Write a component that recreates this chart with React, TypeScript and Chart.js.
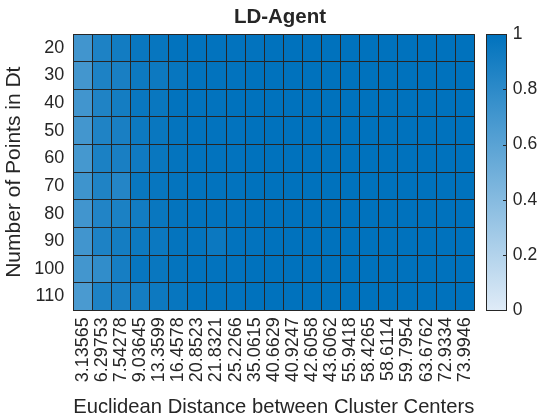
import React, { useEffect, useRef } from "react";
import { Chart, registerables } from "chart.js";

Chart.register(...registerables);

const distanceLabels = [
  "3.13565", "6.29753", "7.54278", "9.03645", "13.3599", "16.4578", "20.8523",
  "21.8321", "25.2266", "35.0615", "40.6629", "40.9247", "42.6058", "43.6062",
  "55.9418", "58.4265", "58.6114", "59.7954", "63.6762", "72.9334", "73.9946",
];

const pointCounts = ["20", "30", "40", "50", "60", "70", "80", "90", "100", "110"];

const row20 = [0.71, 0.87, 0.92, 0.96, 0.97, 0.99, 0.99, 0.99, 0.99, 0.99, 1, 1, 1, 1, 1, 1, 1, 1, 1, 1, 1];
const row30 = [0.70, 0.87, 0.89, 0.94, 0.94, 0.97, 0.99, 0.99, 0.99, 1, 1, 1, 1, 1, 1, 1, 1, 1, 1, 1, 1];
const row40 = [0.71, 0.86, 0.91, 0.96, 0.96, 0.99, 0.99, 0.99, 1, 1, 1, 1, 1, 1, 1, 1, 1, 1, 1, 1, 1];
const row50 = [0.70, 0.86, 0.89, 0.94, 0.96, 0.98, 0.99, 0.99, 0.99, 1, 1, 1, 1, 1, 1, 1, 1, 1, 1, 1, 1];
const row60 = [0.69, 0.88, 0.89, 0.93, 0.96, 0.98, 0.99, 0.99, 0.99, 1, 1, 1, 1, 1, 1, 1, 1, 1, 1, 1, 1];
const row70 = [0.72, 0.86, 0.84, 0.96, 0.97, 0.98, 0.99, 0.99, 0.99, 1, 1, 1, 1, 1, 1, 1, 1, 1, 1, 1, 1];
const row80 = [0.71, 0.85, 0.88, 0.92, 0.96, 0.98, 0.99, 0.99, 0.99, 1, 1, 1, 1, 1, 1, 1, 1, 1, 1, 1, 1];
const row90 = [0.71, 0.87, 0.91, 0.94, 0.95, 0.98, 0.98, 0.95, 0.99, 0.99, 1, 1, 1, 1, 1, 1, 1, 1, 1, 1, 1];
const row100 = [0.70, 0.78, 0.90, 0.97, 0.96, 0.98, 0.99, 0.99, 0.99, 1, 1, 1, 1, 1, 1, 1, 1, 1, 1, 1, 1];
const row110 = [0.67, 0.87, 0.89, 0.91, 0.94, 0.97, 0.99, 0.99, 0.99, 1, 1, 1, 1, 1, 1, 1, 1, 1, 1, 1, 1];

const rows = [row20, row30, row40, row50, row60, row70, row80, row90, row100, row110];

const colorbarTicks = [0, 0.2, 0.4, 0.6, 0.8, 1];

const LOW = [223, 235, 247];
const HIGH = [0, 114, 189];
const TEXT = "rgb(38,38,38)";
const FONT = "'Liberation Sans', Arial, Helvetica, sans-serif";

function colorFor(v: number): string {
  const c = LOW.map((l, k) => Math.round(l + (HIGH[k] - l) * v));
  return `rgb(${c[0]},${c[1]},${c[2]})`;
}

const colorbarPlugin = {
  id: "colorbar",
  afterDraw(chart: any) {
    const { ctx, chartArea } = chart;
    const x0 = Math.round(chartArea.right + 12);
    const w = 20;
    const top = Math.round(chartArea.top);
    const bottom = Math.round(chartArea.bottom);
    ctx.save();
    const g = ctx.createLinearGradient(0, bottom, 0, top);
    g.addColorStop(0, colorFor(0));
    g.addColorStop(1, colorFor(1));
    ctx.fillStyle = g;
    ctx.fillRect(x0, top, w, bottom - top);
    ctx.strokeStyle = TEXT;
    ctx.lineWidth = 1;
    ctx.strokeRect(x0 + 0.5, top + 0.5, w, bottom - top);
    const scale = chart.scales.cb;
    ctx.beginPath();
    for (const t of colorbarTicks) {
      if (t === 0 || t === 1) continue;
      const y = Math.round(scale.getPixelForValue(t)) + 0.5;
      ctx.moveTo(x0 + w, y);
      ctx.lineTo(x0 + w - 3, y);
    }
    ctx.stroke();
    ctx.restore();
  },
};

const noPad = (s: any) => {
  s.paddingTop = 0;
  s.paddingBottom = 0;
  s.paddingLeft = 0;
  s.paddingRight = 0;
};

export default function App() {
  const ref = useRef<HTMLCanvasElement | null>(null);

  useEffect(() => {
    if (!ref.current) return;
    const datasets = rows.map((vals, i) => ({
      label: pointCounts[i],
      data: distanceLabels.map(() => [i, i + 1]),
      backgroundColor: vals.map(colorFor),
      borderWidth: 0,
      barPercentage: 1,
      categoryPercentage: 1,
      grouped: false,
    }));
    const chart = new Chart(ref.current, {
      type: "bar",
      data: { labels: distanceLabels, datasets: datasets as any },
      plugins: [colorbarPlugin],
      options: {
        animation: false,
        responsive: false,
        maintainAspectRatio: false,
        layout: { padding: 0 },
        plugins: {
          legend: { display: false },
          tooltip: { enabled: false },
          title: {
            display: true,
            text: "LD-Agent",
            color: TEXT,
            font: { family: FONT, size: 20.5, weight: "bold" },
            padding: { top: 5.5, bottom: 4 },
          },
        },
        scales: {
          x: {
            type: "category",
            grid: { display: true, offset: true, color: TEXT, lineWidth: 1, drawTicks: false, z: 1 },
            border: { display: true, color: TEXT, z: 2 },
            ticks: {
              color: TEXT,
              font: { family: FONT, size: 18 },
              minRotation: 90,
              maxRotation: 90,
              autoSkip: false,
              padding: 7,
            },
            title: {
              display: true,
              text: "Euclidean Distance between Cluster Centers",
              color: TEXT,
              font: { family: FONT, size: 21 },
              padding: { top: 0, bottom: 0 },
            },
            afterFit: (s: any) => { s.height = 109.7; noPad(s); },
          },
          y: {
            type: "linear",
            position: "left",
            min: 0,
            max: 10,
            reverse: true,
            afterBuildTicks: (axis: any) => {
              axis.ticks = pointCounts.map((_, i) => ({ value: i + 0.5 }));
            },
            grid: { display: true, offset: true, color: TEXT, lineWidth: 1, drawTicks: false, z: 1 },
            border: { display: true, color: TEXT, z: 2 },
            ticks: {
              color: TEXT,
              font: { family: FONT, size: 18 },
              padding: 9,
              autoSkip: false,
              callback: (v: any) => pointCounts[Math.floor(Number(v))],
            },
            title: {
              display: true,
              text: "Number of Points in Dt",
              color: TEXT,
              font: { family: FONT, size: 21 },
              padding: { top: 1.5, bottom: 0 },
            },
            afterFit: (s: any) => { s.width = 73.3; noPad(s); },
          },
          cb: {
            type: "linear",
            position: "right",
            min: 0,
            max: 1,
            grid: { display: false, drawTicks: false },
            border: { display: false },
            ticks: {
              color: TEXT,
              font: { family: FONT, size: 17.5 },
              stepSize: 0.2,
              padding: 38.5,
              callback: (v: any) => String(Math.round(Number(v) * 10) / 10),
            },
            afterFit: (s: any) => { s.width = 85.7; noPad(s); },
          },
        },
      },
    } as any);
    return () => chart.destroy();
  }, []);

  return (
    <div style={{ position: "absolute", left: 0, top: 0, width: 560, height: 420, background: "#fff" }}>
      <canvas ref={ref} width={560} height={420} style={{ width: 560, height: 420 }} />
    </div>
  );
}
